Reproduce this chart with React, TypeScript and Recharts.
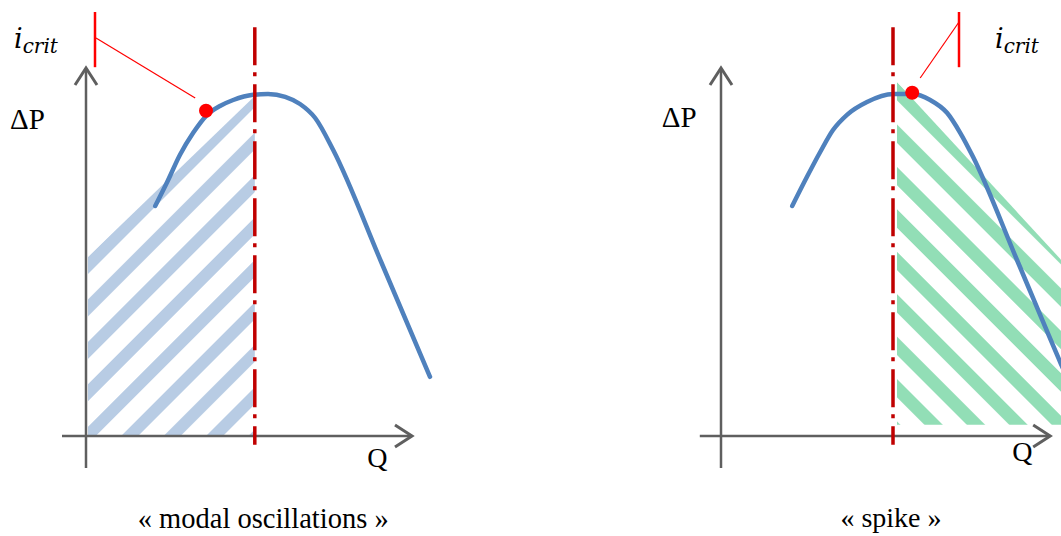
import React from "react";
import {
  Area,
  ComposedChart,
  Line,
  ReferenceDot,
  ReferenceLine,
  XAxis,
  YAxis,
} from "recharts";

// Q / ΔP in arbitrary schematic units (origin at the axes crossing)
const leftQ = [1.73, 2.03, 2.35, 2.68, 3.03, 3.35, 3.68, 4.18, 4.55, 4.98, 5.35, 5.73, 6.18, 7.38, 8.6];
const leftDP = [5.75, 6.35, 7.03, 7.58, 8.03, 8.25, 8.4, 8.53, 8.55, 8.48, 8.3, 7.95, 7.15, 4.35, 1.48];

const rightQ = [1.78, 2.15, 2.48, 2.8, 3.15, 3.65, 4.3, 4.8, 5.23, 5.65, 5.98, 6.3, 7.4, 8.5, 8.85];
const rightDP = [5.75, 6.48, 7.1, 7.65, 8.03, 8.35, 8.55, 8.55, 8.4, 8.08, 7.58, 6.98, 4.4, 1.8, 1.0];

// hatched zones (left: under the curve up to the limit, right: beyond it)
const leftZoneQ = [0.05, 4.22];
const leftZoneTop = [4.48, 8.5];
const rightZoneQ = [4.4, 8.6];
const rightZoneTop = [8.85, 4.3];
const rightZoneBottom = [0.28, 0.28];

const leftLimitQ = 4.22;
const rightLimitQ = 4.3;
const leftCrit = { q: 3.0, dp: 8.13 };
const rightCrit = { q: 4.78, dp: 8.58 };

const leftCurve = leftQ.map((q, i) => ({ q, dp: leftDP[i] }));
const rightCurve = rightQ.map((q, i) => ({ q, dp: rightDP[i] }));
const leftZone = leftZoneQ.map((q, i) => ({ q, dp: leftZoneTop[i] }));
const rightZone = rightZoneQ.map((q, i) => ({ q, range: [rightZoneBottom[i], rightZoneTop[i]] }));

const AXIS = "#5f5f5f";
const CURVE = "#4f81bd";
const LIMIT = "#c00000";
const CRIT = "#ff0000";
const SERIF = "'Liberation Serif', 'Times New Roman', serif";
const MATH = "'DejaVu Serif', serif";

const ArrowLine = (props: any) => {
  const { x1, y1, x2, y2 } = props;
  const len = Math.hypot(x2 - x1, y2 - y1);
  const ux = (x2 - x1) / len;
  const uy = (y2 - y1) / len;
  const bx = x2 - ux * 17;
  const by = y2 - uy * 17;
  const px = -uy * 11;
  const py = ux * 11;
  return (
    <g>
      <line x1={x1} y1={y1} x2={x2} y2={y2} stroke={AXIS} strokeWidth={2.5} />
      <polyline
        points={`${bx + px},${by + py} ${x2},${y2} ${bx - px},${by - py}`}
        fill="none"
        stroke={AXIS}
        strokeWidth={3}
      />
    </g>
  );
};

const textLabel = (text: string, size: number, anchor: "start" | "middle" = "start") => (p: any) => {
  const vb = p.viewBox || {};
  return (
    <text x={vb.x} y={vb.y} style={{ fontFamily: SERIF, fontSize: size }} fill="#000" textAnchor={anchor}>
      {text}
    </text>
  );
};

const critLabel = (p: any) => {
  const vb = p.viewBox || {};
  return (
    <text x={vb.x} y={vb.y} style={{ fontFamily: MATH, fontStyle: "italic" }} fill="#000">
      <tspan style={{ fontSize: 27 }}>i</tspan>
      <tspan style={{ fontSize: 20 }} dy={5}>crit</tspan>
    </text>
  );
};

const Anchor = ({ q, dp, content }: { q: number; dp: number; content: any }) => (
  <ReferenceDot x={q} y={dp} r={0} stroke="none" fill="none" ifOverflow="visible" label={{ content }} />
);

export default function App() {
  return (
    <div style={{ position: "absolute", left: 0, top: 0, width: 1061, height: 536, background: "#fff" }}>
      <div style={{ position: "absolute", left: 0, top: 0 }}>
        <ComposedChart width={530} height={536} margin={{ top: 36, right: 44, bottom: 60, left: 46 }}>
          <defs>
            <pattern
              id="hatchBlue"
              patternUnits="userSpaceOnUse"
              width={30}
              height={30}
              patternTransform="rotate(45) translate(3.95,0)"
            >
              <rect x={0} y={0} width={12} height={30} fill="#b8cce4" />
            </pattern>
          </defs>
          <XAxis type="number" dataKey="q" domain={[-1, 10]} allowDataOverflow hide />
          <YAxis type="number" domain={[-1, 10]} allowDataOverflow hide />
          <Area
            data={leftZone}
            dataKey="dp"
            type="linear"
            baseValue={0}
            stroke="none"
            fill="url(#hatchBlue)"
            fillOpacity={1}
            isAnimationActive={false}
          />
          <ReferenceLine segment={[{ x: 0, y: -0.8 }, { x: 0, y: 9.2 }]} ifOverflow="visible" shape={ArrowLine} />
          <ReferenceLine segment={[{ x: -0.6, y: 0 }, { x: 8.15, y: 0 }]} ifOverflow="visible" shape={ArrowLine} />
          <Line
            data={leftCurve}
            dataKey="dp"
            type="monotone"
            stroke={CURVE}
            strokeWidth={4.5}
            strokeLinecap="round"
            dot={false}
            isAnimationActive={false}
          />
          <ReferenceLine
            segment={[{ x: leftLimitQ, y: 10.22 }, { x: leftLimitQ, y: -0.22 }]}
            ifOverflow="visible"
            stroke={LIMIT}
            strokeWidth={3.5}
            strokeDasharray="38 7 4 8"
          />
          <ReferenceLine segment={[{ x: 0.225, y: 10.6 }, { x: 0.225, y: 9.22 }]} ifOverflow="visible" stroke={CRIT} strokeWidth={2.5} />
          <ReferenceLine segment={[{ x: 0.25, y: 9.95 }, { x: 2.73, y: 8.45 }]} ifOverflow="visible" stroke={CRIT} strokeWidth={1.2} />
          <ReferenceDot x={leftCrit.q} y={leftCrit.dp} r={7} fill={CRIT} stroke="none" ifOverflow="visible" />
          {Anchor({ q: -1.9, dp: 7.68, content: textLabel("ΔP", 29) })}
          {Anchor({ q: 7.03, dp: -0.78, content: textLabel("Q", 28) })}
          {Anchor({ q: -1.8, dp: 9.7, content: critLabel })}
          {Anchor({ q: 4.43, dp: -2.3, content: textLabel("« modal oscillations »", 28.5, "middle") })}
        </ComposedChart>
      </div>
      <div style={{ position: "absolute", left: 530, top: 0 }}>
        <ComposedChart width={531} height={536} margin={{ top: 36, right: 0, bottom: 60, left: 151 }}>
          <defs>
            <pattern
              id="hatchGreen"
              patternUnits="userSpaceOnUse"
              width={30}
              height={30}
              patternTransform="rotate(-45) translate(8.5,0)"
            >
              <rect x={0} y={0} width={13} height={30} fill="#25bd6d" />
            </pattern>
          </defs>
          <XAxis type="number" dataKey="q" domain={[-1, 8.5]} allowDataOverflow hide />
          <YAxis type="number" domain={[-1, 10]} allowDataOverflow hide />
          <ReferenceLine segment={[{ x: 0, y: -0.8 }, { x: 0, y: 9.2 }]} ifOverflow="visible" shape={ArrowLine} />
          <ReferenceLine segment={[{ x: -0.53, y: 0 }, { x: 8.23, y: 0 }]} ifOverflow="visible" shape={ArrowLine} />
          <Line
            data={rightCurve}
            dataKey="dp"
            type="monotone"
            stroke={CURVE}
            strokeWidth={4.5}
            strokeLinecap="round"
            dot={false}
            isAnimationActive={false}
          />
          <ReferenceDot x={rightCrit.q} y={rightCrit.dp} r={7} fill={CRIT} stroke="none" ifOverflow="visible" />
          <Area
            data={rightZone}
            dataKey="range"
            type="linear"
            stroke="none"
            fill="url(#hatchGreen)"
            fillOpacity={0.5}
            isAnimationActive={false}
          />
          <ReferenceLine
            segment={[{ x: rightLimitQ, y: 10.22 }, { x: rightLimitQ, y: -0.22 }]}
            ifOverflow="visible"
            stroke={LIMIT}
            strokeWidth={3.5}
            strokeDasharray="38 7 4 8"
          />
          <ReferenceLine segment={[{ x: 5.95, y: 10.6 }, { x: 5.95, y: 9.22 }]} ifOverflow="visible" stroke={CRIT} strokeWidth={2.5} />
          <ReferenceLine segment={[{ x: 5.95, y: 10.35 }, { x: 4.98, y: 8.95 }]} ifOverflow="visible" stroke={CRIT} strokeWidth={1.2} />
          {Anchor({ q: -1.48, dp: 7.73, content: textLabel("ΔP", 29) })}
          {Anchor({ q: 7.28, dp: -0.63, content: textLabel("Q", 28) })}
          {Anchor({ q: 6.85, dp: 9.7, content: critLabel })}
          {Anchor({ q: 4.25, dp: -2.28, content: textLabel("« spike »", 28, "middle") })}
        </ComposedChart>
      </div>
    </div>
  );
}
